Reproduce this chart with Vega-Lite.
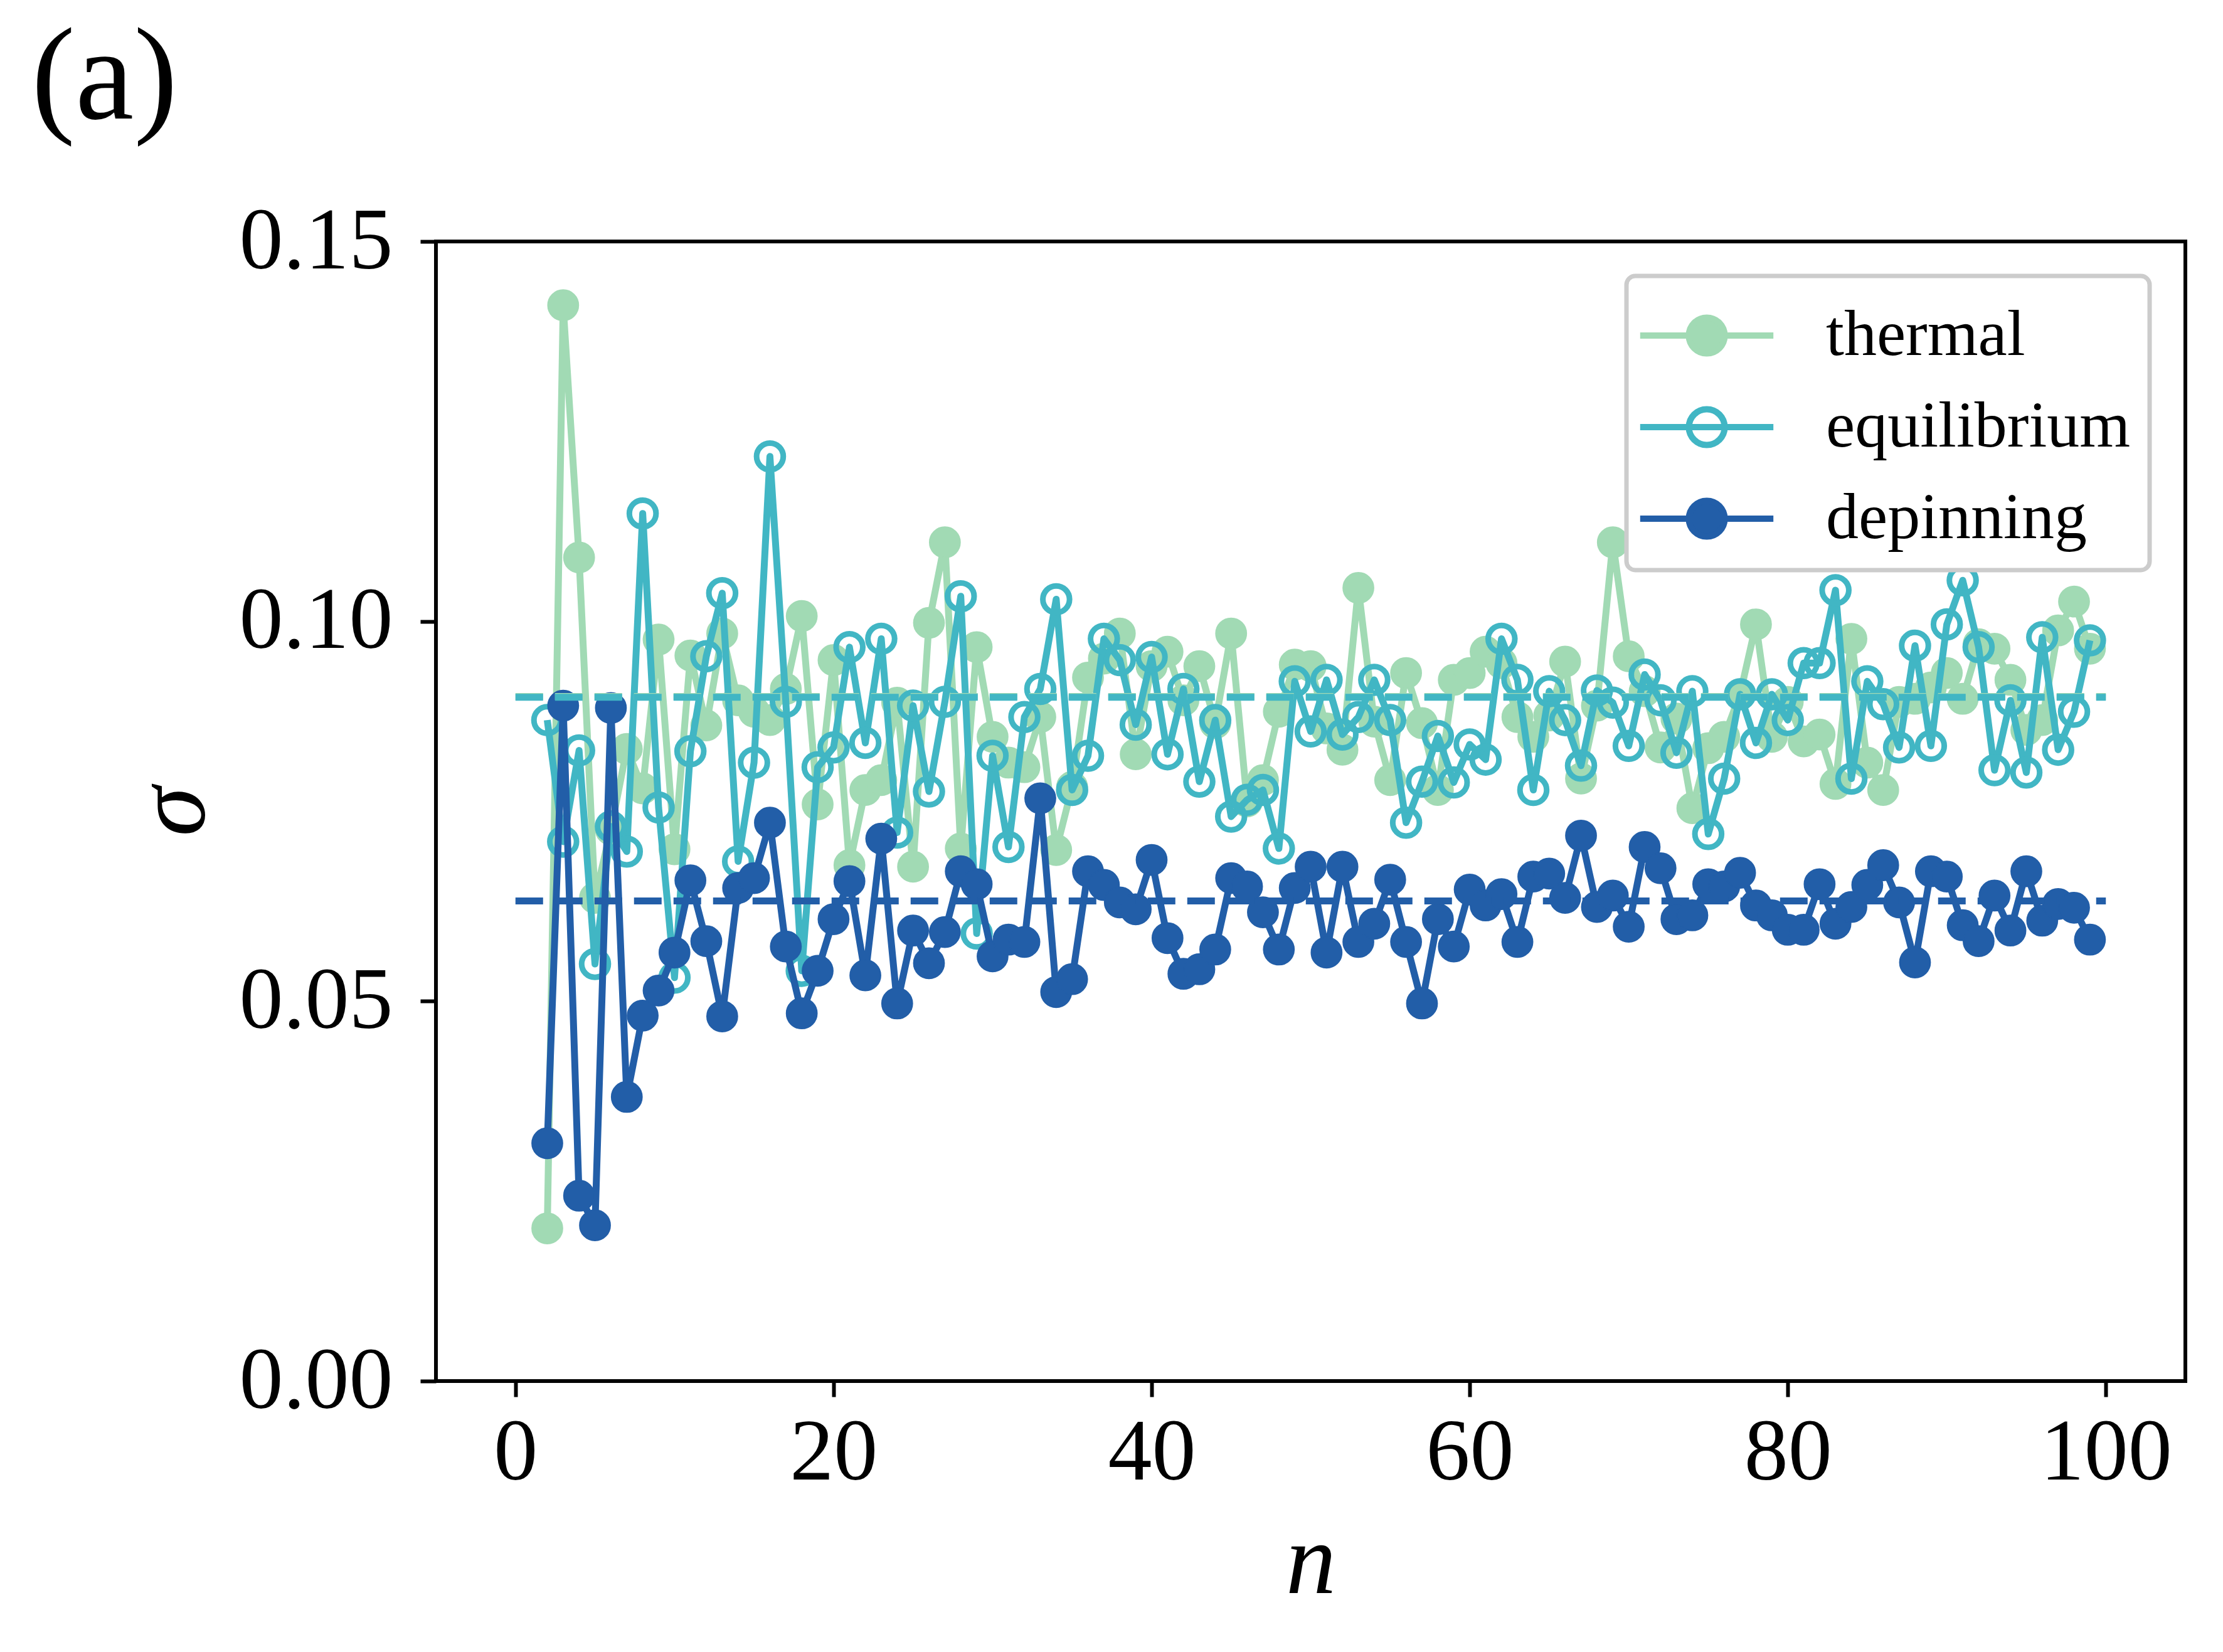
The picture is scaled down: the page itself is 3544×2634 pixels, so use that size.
{
"$schema": "https://vega.github.io/schema/vega-lite/v6.json",
"width": 2789,
"height": 1817,
"autosize": {"type": "none"},
"padding": {"left": 695, "top": 385, "right": 60, "bottom": 432},
"background": "white",
"title": {"text": "(a)", "anchor": "start", "frame": "group", "dx": -645, "offset": -84, "baseline": "alphabetic", "font": "Liberation Serif", "fontSize": 210, "fontWeight": "normal", "color": "black"},
"config": {
  "view": {"stroke": "black", "strokeWidth": 6},
  "axis": {"domain": false, "grid": false, "tickColor": "black", "tickWidth": 6, "tickSize": 25, "labelFont": "Liberation Serif", "labelFontSize": 140, "labelColor": "black", "labelLimit": 0, "labelOverlap": false, "titleFont": "Liberation Serif", "titleFontSize": 160, "titleFontStyle": "italic", "titleFontWeight": "normal", "titleColor": "black"}
},
"datasets": {
"pts": [
{"n":2,"sigma":0.0201,"series":"thermal"},{"n":3,"sigma":0.1416,"series":"thermal"},{"n":4,"sigma":0.1084,"series":"thermal"},{"n":5,"sigma":0.0636,"series":"thermal"},{"n":6,"sigma":0.0726,"series":"thermal"},{"n":7,"sigma":0.0832,"series":"thermal"},{"n":8,"sigma":0.0780,"series":"thermal"},{"n":9,"sigma":0.0976,"series":"thermal"},{"n":10,"sigma":0.0700,"series":"thermal"},{"n":11,"sigma":0.0955,"series":"thermal"},{"n":12,"sigma":0.0863,"series":"thermal"},{"n":13,"sigma":0.0984,"series":"thermal"},{"n":14,"sigma":0.0896,"series":"thermal"},{"n":15,"sigma":0.0881,"series":"thermal"},{"n":16,"sigma":0.0870,"series":"thermal"},{"n":17,"sigma":0.0911,"series":"thermal"},{"n":18,"sigma":0.1007,"series":"thermal"},{"n":19,"sigma":0.0759,"series":"thermal"},{"n":20,"sigma":0.0949,"series":"thermal"},{"n":21,"sigma":0.0679,"series":"thermal"},{"n":22,"sigma":0.0778,"series":"thermal"},{"n":23,"sigma":0.0791,"series":"thermal"},{"n":24,"sigma":0.0893,"series":"thermal"},{"n":25,"sigma":0.0677,"series":"thermal"},{"n":26,"sigma":0.0998,"series":"thermal"},{"n":27,"sigma":0.1104,"series":"thermal"},{"n":28,"sigma":0.0701,"series":"thermal"},{"n":29,"sigma":0.0966,"series":"thermal"},{"n":30,"sigma":0.0848,"series":"thermal"},{"n":31,"sigma":0.0814,"series":"thermal"},{"n":32,"sigma":0.0808,"series":"thermal"},{"n":33,"sigma":0.0874,"series":"thermal"},{"n":34,"sigma":0.0699,"series":"thermal"},{"n":35,"sigma":0.0782,"series":"thermal"},{"n":36,"sigma":0.0926,"series":"thermal"},{"n":37,"sigma":0.0951,"series":"thermal"},{"n":38,"sigma":0.0984,"series":"thermal"},{"n":39,"sigma":0.0825,"series":"thermal"},{"n":40,"sigma":0.0941,"series":"thermal"},{"n":41,"sigma":0.0960,"series":"thermal"},{"n":42,"sigma":0.0896,"series":"thermal"},{"n":43,"sigma":0.0941,"series":"thermal"},{"n":44,"sigma":0.0866,"series":"thermal"},{"n":45,"sigma":0.0984,"series":"thermal"},{"n":46,"sigma":0.0763,"series":"thermal"},{"n":47,"sigma":0.0791,"series":"thermal"},{"n":48,"sigma":0.0881,"series":"thermal"},{"n":49,"sigma":0.0943,"series":"thermal"},{"n":50,"sigma":0.0941,"series":"thermal"},{"n":51,"sigma":0.0859,"series":"thermal"},{"n":52,"sigma":0.0831,"series":"thermal"},{"n":53,"sigma":0.1044,"series":"thermal"},{"n":54,"sigma":0.0868,"series":"thermal"},{"n":55,"sigma":0.0791,"series":"thermal"},{"n":56,"sigma":0.0932,"series":"thermal"},{"n":57,"sigma":0.0866,"series":"thermal"},{"n":58,"sigma":0.0778,"series":"thermal"},{"n":59,"sigma":0.0923,"series":"thermal"},{"n":60,"sigma":0.0932,"series":"thermal"},{"n":61,"sigma":0.0960,"series":"thermal"},{"n":62,"sigma":0.0945,"series":"thermal"},{"n":63,"sigma":0.0874,"series":"thermal"},{"n":64,"sigma":0.0848,"series":"thermal"},{"n":65,"sigma":0.0876,"series":"thermal"},{"n":66,"sigma":0.0947,"series":"thermal"},{"n":67,"sigma":0.0793,"series":"thermal"},{"n":68,"sigma":0.0889,"series":"thermal"},{"n":69,"sigma":0.1104,"series":"thermal"},{"n":70,"sigma":0.0954,"series":"thermal"},{"n":71,"sigma":0.0908,"series":"thermal"},{"n":72,"sigma":0.0834,"series":"thermal"},{"n":73,"sigma":0.0872,"series":"thermal"},{"n":74,"sigma":0.0754,"series":"thermal"},{"n":75,"sigma":0.0833,"series":"thermal"},{"n":76,"sigma":0.0848,"series":"thermal"},{"n":77,"sigma":0.0904,"series":"thermal"},{"n":78,"sigma":0.0996,"series":"thermal"},{"n":79,"sigma":0.0848,"series":"thermal"},{"n":80,"sigma":0.0894,"series":"thermal"},{"n":81,"sigma":0.0842,"series":"thermal"},{"n":82,"sigma":0.0851,"series":"thermal"},{"n":83,"sigma":0.0786,"series":"thermal"},{"n":84,"sigma":0.0977,"series":"thermal"},{"n":85,"sigma":0.0814,"series":"thermal"},{"n":86,"sigma":0.0778,"series":"thermal"},{"n":87,"sigma":0.0894,"series":"thermal"},{"n":88,"sigma":0.0898,"series":"thermal"},{"n":89,"sigma":0.0913,"series":"thermal"},{"n":90,"sigma":0.0932,"series":"thermal"},{"n":91,"sigma":0.0898,"series":"thermal"},{"n":92,"sigma":0.0970,"series":"thermal"},{"n":93,"sigma":0.0964,"series":"thermal"},{"n":94,"sigma":0.0923,"series":"thermal"},{"n":95,"sigma":0.0857,"series":"thermal"},{"n":96,"sigma":0.0870,"series":"thermal"},{"n":97,"sigma":0.0988,"series":"thermal"},{"n":98,"sigma":0.1026,"series":"thermal"},{"n":99,"sigma":0.0964,"series":"thermal"},
{"n":2,"sigma":0.0870,"series":"equilibrium"},{"n":3,"sigma":0.0710,"series":"equilibrium"},{"n":4,"sigma":0.0830,"series":"equilibrium"},{"n":5,"sigma":0.0549,"series":"equilibrium"},{"n":6,"sigma":0.0730,"series":"equilibrium"},{"n":7,"sigma":0.0697,"series":"equilibrium"},{"n":8,"sigma":0.1142,"series":"equilibrium"},{"n":9,"sigma":0.0755,"series":"equilibrium"},{"n":10,"sigma":0.0531,"series":"equilibrium"},{"n":11,"sigma":0.0829,"series":"equilibrium"},{"n":12,"sigma":0.0954,"series":"equilibrium"},{"n":13,"sigma":0.1037,"series":"equilibrium"},{"n":14,"sigma":0.0684,"series":"equilibrium"},{"n":15,"sigma":0.0814,"series":"equilibrium"},{"n":16,"sigma":0.1217,"series":"equilibrium"},{"n":17,"sigma":0.0894,"series":"equilibrium"},{"n":18,"sigma":0.0540,"series":"equilibrium"},{"n":19,"sigma":0.0808,"series":"equilibrium"},{"n":20,"sigma":0.0834,"series":"equilibrium"},{"n":21,"sigma":0.0966,"series":"equilibrium"},{"n":22,"sigma":0.0840,"series":"equilibrium"},{"n":23,"sigma":0.0977,"series":"equilibrium"},{"n":24,"sigma":0.0722,"series":"equilibrium"},{"n":25,"sigma":0.0889,"series":"equilibrium"},{"n":26,"sigma":0.0776,"series":"equilibrium"},{"n":27,"sigma":0.0894,"series":"equilibrium"},{"n":28,"sigma":0.1033,"series":"equilibrium"},{"n":29,"sigma":0.0589,"series":"equilibrium"},{"n":30,"sigma":0.0823,"series":"equilibrium"},{"n":31,"sigma":0.0703,"series":"equilibrium"},{"n":32,"sigma":0.0874,"series":"equilibrium"},{"n":33,"sigma":0.0911,"series":"equilibrium"},{"n":34,"sigma":0.1029,"series":"equilibrium"},{"n":35,"sigma":0.0778,"series":"equilibrium"},{"n":36,"sigma":0.0823,"series":"equilibrium"},{"n":37,"sigma":0.0977,"series":"equilibrium"},{"n":38,"sigma":0.0949,"series":"equilibrium"},{"n":39,"sigma":0.0864,"series":"equilibrium"},{"n":40,"sigma":0.0953,"series":"equilibrium"},{"n":41,"sigma":0.0825,"series":"equilibrium"},{"n":42,"sigma":0.0911,"series":"equilibrium"},{"n":43,"sigma":0.0789,"series":"equilibrium"},{"n":44,"sigma":0.0870,"series":"equilibrium"},{"n":45,"sigma":0.0743,"series":"equilibrium"},{"n":46,"sigma":0.0765,"series":"equilibrium"},{"n":47,"sigma":0.0778,"series":"equilibrium"},{"n":48,"sigma":0.0701,"series":"equilibrium"},{"n":49,"sigma":0.0921,"series":"equilibrium"},{"n":50,"sigma":0.0855,"series":"equilibrium"},{"n":51,"sigma":0.0923,"series":"equilibrium"},{"n":52,"sigma":0.0851,"series":"equilibrium"},{"n":53,"sigma":0.0874,"series":"equilibrium"},{"n":54,"sigma":0.0923,"series":"equilibrium"},{"n":55,"sigma":0.0870,"series":"equilibrium"},{"n":56,"sigma":0.0735,"series":"equilibrium"},{"n":57,"sigma":0.0789,"series":"equilibrium"},{"n":58,"sigma":0.0849,"series":"equilibrium"},{"n":59,"sigma":0.0788,"series":"equilibrium"},{"n":60,"sigma":0.0838,"series":"equilibrium"},{"n":61,"sigma":0.0818,"series":"equilibrium"},{"n":62,"sigma":0.0977,"series":"equilibrium"},{"n":63,"sigma":0.0923,"series":"equilibrium"},{"n":64,"sigma":0.0778,"series":"equilibrium"},{"n":65,"sigma":0.0908,"series":"equilibrium"},{"n":66,"sigma":0.0870,"series":"equilibrium"},{"n":67,"sigma":0.0810,"series":"equilibrium"},{"n":68,"sigma":0.0909,"series":"equilibrium"},{"n":69,"sigma":0.0893,"series":"equilibrium"},{"n":70,"sigma":0.0836,"series":"equilibrium"},{"n":71,"sigma":0.0930,"series":"equilibrium"},{"n":72,"sigma":0.0896,"series":"equilibrium"},{"n":73,"sigma":0.0827,"series":"equilibrium"},{"n":74,"sigma":0.0908,"series":"equilibrium"},{"n":75,"sigma":0.0720,"series":"equilibrium"},{"n":76,"sigma":0.0793,"series":"equilibrium"},{"n":77,"sigma":0.0904,"series":"equilibrium"},{"n":78,"sigma":0.0840,"series":"equilibrium"},{"n":79,"sigma":0.0904,"series":"equilibrium"},{"n":80,"sigma":0.0870,"series":"equilibrium"},{"n":81,"sigma":0.0945,"series":"equilibrium"},{"n":82,"sigma":0.0945,"series":"equilibrium"},{"n":83,"sigma":0.1041,"series":"equilibrium"},{"n":84,"sigma":0.0793,"series":"equilibrium"},{"n":85,"sigma":0.0921,"series":"equilibrium"},{"n":86,"sigma":0.0891,"series":"equilibrium"},{"n":87,"sigma":0.0834,"series":"equilibrium"},{"n":88,"sigma":0.0968,"series":"equilibrium"},{"n":89,"sigma":0.0836,"series":"equilibrium"},{"n":90,"sigma":0.0996,"series":"equilibrium"},{"n":91,"sigma":0.1054,"series":"equilibrium"},{"n":92,"sigma":0.0966,"series":"equilibrium"},{"n":93,"sigma":0.0804,"series":"equilibrium"},{"n":94,"sigma":0.0896,"series":"equilibrium"},{"n":95,"sigma":0.0801,"series":"equilibrium"},{"n":96,"sigma":0.0979,"series":"equilibrium"},{"n":97,"sigma":0.0831,"series":"equilibrium"},{"n":98,"sigma":0.0881,"series":"equilibrium"},{"n":99,"sigma":0.0975,"series":"equilibrium"},
{"n":2,"sigma":0.0313,"series":"depinning"},{"n":3,"sigma":0.0889,"series":"depinning"},{"n":4,"sigma":0.0244,"series":"depinning"},{"n":5,"sigma":0.0205,"series":"depinning"},{"n":6,"sigma":0.0886,"series":"depinning"},{"n":7,"sigma":0.0374,"series":"depinning"},{"n":8,"sigma":0.0481,"series":"depinning"},{"n":9,"sigma":0.0514,"series":"depinning"},{"n":10,"sigma":0.0564,"series":"depinning"},{"n":11,"sigma":0.0659,"series":"depinning"},{"n":12,"sigma":0.0579,"series":"depinning"},{"n":13,"sigma":0.0480,"series":"depinning"},{"n":14,"sigma":0.0649,"series":"depinning"},{"n":15,"sigma":0.0662,"series":"depinning"},{"n":16,"sigma":0.0735,"series":"depinning"},{"n":17,"sigma":0.0572,"series":"depinning"},{"n":18,"sigma":0.0484,"series":"depinning"},{"n":19,"sigma":0.0540,"series":"depinning"},{"n":20,"sigma":0.0608,"series":"depinning"},{"n":21,"sigma":0.0658,"series":"depinning"},{"n":22,"sigma":0.0534,"series":"depinning"},{"n":23,"sigma":0.0714,"series":"depinning"},{"n":24,"sigma":0.0497,"series":"depinning"},{"n":25,"sigma":0.0593,"series":"depinning"},{"n":26,"sigma":0.0550,"series":"depinning"},{"n":27,"sigma":0.0591,"series":"depinning"},{"n":28,"sigma":0.0671,"series":"depinning"},{"n":29,"sigma":0.0654,"series":"depinning"},{"n":30,"sigma":0.0559,"series":"depinning"},{"n":31,"sigma":0.0581,"series":"depinning"},{"n":32,"sigma":0.0578,"series":"depinning"},{"n":33,"sigma":0.0767,"series":"depinning"},{"n":34,"sigma":0.0512,"series":"depinning"},{"n":35,"sigma":0.0529,"series":"depinning"},{"n":36,"sigma":0.0671,"series":"depinning"},{"n":37,"sigma":0.0653,"series":"depinning"},{"n":38,"sigma":0.0630,"series":"depinning"},{"n":39,"sigma":0.0621,"series":"depinning"},{"n":40,"sigma":0.0686,"series":"depinning"},{"n":41,"sigma":0.0583,"series":"depinning"},{"n":42,"sigma":0.0536,"series":"depinning"},{"n":43,"sigma":0.0542,"series":"depinning"},{"n":44,"sigma":0.0568,"series":"depinning"},{"n":45,"sigma":0.0662,"series":"depinning"},{"n":46,"sigma":0.0651,"series":"depinning"},{"n":47,"sigma":0.0617,"series":"depinning"},{"n":48,"sigma":0.0568,"series":"depinning"},{"n":49,"sigma":0.0649,"series":"depinning"},{"n":50,"sigma":0.0677,"series":"depinning"},{"n":51,"sigma":0.0564,"series":"depinning"},{"n":52,"sigma":0.0677,"series":"depinning"},{"n":53,"sigma":0.0578,"series":"depinning"},{"n":54,"sigma":0.0602,"series":"depinning"},{"n":55,"sigma":0.0660,"series":"depinning"},{"n":56,"sigma":0.0578,"series":"depinning"},{"n":57,"sigma":0.0497,"series":"depinning"},{"n":58,"sigma":0.0608,"series":"depinning"},{"n":59,"sigma":0.0572,"series":"depinning"},{"n":60,"sigma":0.0647,"series":"depinning"},{"n":61,"sigma":0.0626,"series":"depinning"},{"n":62,"sigma":0.0641,"series":"depinning"},{"n":63,"sigma":0.0578,"series":"depinning"},{"n":64,"sigma":0.0664,"series":"depinning"},{"n":65,"sigma":0.0668,"series":"depinning"},{"n":66,"sigma":0.0636,"series":"depinning"},{"n":67,"sigma":0.0718,"series":"depinning"},{"n":68,"sigma":0.0624,"series":"depinning"},{"n":69,"sigma":0.0639,"series":"depinning"},{"n":70,"sigma":0.0598,"series":"depinning"},{"n":71,"sigma":0.0703,"series":"depinning"},{"n":72,"sigma":0.0675,"series":"depinning"},{"n":73,"sigma":0.0608,"series":"depinning"},{"n":74,"sigma":0.0613,"series":"depinning"},{"n":75,"sigma":0.0654,"series":"depinning"},{"n":76,"sigma":0.0651,"series":"depinning"},{"n":77,"sigma":0.0669,"series":"depinning"},{"n":78,"sigma":0.0626,"series":"depinning"},{"n":79,"sigma":0.0613,"series":"depinning"},{"n":80,"sigma":0.0594,"series":"depinning"},{"n":81,"sigma":0.0594,"series":"depinning"},{"n":82,"sigma":0.0654,"series":"depinning"},{"n":83,"sigma":0.0602,"series":"depinning"},{"n":84,"sigma":0.0624,"series":"depinning"},{"n":85,"sigma":0.0653,"series":"depinning"},{"n":86,"sigma":0.0679,"series":"depinning"},{"n":87,"sigma":0.0630,"series":"depinning"},{"n":88,"sigma":0.0551,"series":"depinning"},{"n":89,"sigma":0.0671,"series":"depinning"},{"n":90,"sigma":0.0664,"series":"depinning"},{"n":91,"sigma":0.0600,"series":"depinning"},{"n":92,"sigma":0.0579,"series":"depinning"},{"n":93,"sigma":0.0639,"series":"depinning"},{"n":94,"sigma":0.0593,"series":"depinning"},{"n":95,"sigma":0.0671,"series":"depinning"},{"n":96,"sigma":0.0606,"series":"depinning"},{"n":97,"sigma":0.0628,"series":"depinning"},{"n":98,"sigma":0.0623,"series":"depinning"},{"n":99,"sigma":0.0581,"series":"depinning"}
],
"means": [
{"n":0,"n2":100,"sigma":0.0901,"series":"thermal"},
{"n":0,"n2":100,"sigma":0.0900,"series":"equilibrium"},
{"n":0,"n2":100,"sigma":0.0632,"series":"depinning"}
]
},
"data": {"name": "pts"},
"encoding": {
  "x": {"field": "n", "type": "quantitative", "scale": {"domain": [-5, 105], "nice": false, "zero": false}, "axis": {"values": [0, 20, 40, 60, 80, 100], "title": "n", "labelPadding": 20, "titlePadding": 27}},
  "y": {"field": "sigma", "type": "quantitative", "scale": {"domain": [0, 0.15], "nice": false}, "axis": {"values": [0, 0.05, 0.1, 0.15], "format": ".2f", "title": "σ", "labelPadding": 44, "titlePadding": 137}},
  "color": {"field": "series", "type": "nominal", "scale": {"domain": ["thermal", "equilibrium", "depinning"], "range": ["#a1dab4", "#41b6c4", "#225ea8"]},
    "legend": {"title": null, "orient": "none", "legendX": 1898, "legendY": 55, "padding": 30, "fillColor": "white", "strokeColor": "#cccccc", "cornerRadius": 14,
      "labelFont": "Liberation Serif", "labelFontSize": 104, "labelColor": "black", "labelOffset": 158, "labelLimit": 0, "rowPadding": 29,
      "symbolSize": 14400, "symbolType": "M -1.22 0 L 2.32 0 M 1.025 0 A 0.475 0.475 0 1 1 0.075 0 A 0.475 0.475 0 1 1 1.025 0 Z", "symbolStrokeWidth": 10, "symbolOpacity": 1,
      "encode": {"legend": {"update": {"strokeWidth": {"value": 7}}}}}}
},
"layer": [
  {"transform": [{"filter": "datum.series === 'thermal'"}], "mark": {"type": "line", "strokeWidth": 11, "strokeJoin": "round"}},
  {"transform": [{"filter": "datum.series === 'thermal'"}], "mark": {"type": "point", "shape": "circle", "filled": false, "size": 2376, "strokeWidth": 2, "opacity": 1},
   "encoding": {"fill": {"field": "series", "type": "nominal", "scale": {"domain": ["thermal", "equilibrium", "depinning"], "range": ["#a1dab4", "transparent", "#225ea8"]},
    "legend": {"title": null, "orient": "none", "legendX": 1898, "legendY": 55, "padding": 30, "fillColor": "white", "strokeColor": "#cccccc", "cornerRadius": 14,
      "labelFont": "Liberation Serif", "labelFontSize": 104, "labelColor": "black", "labelOffset": 158, "labelLimit": 0, "rowPadding": 29,
      "symbolSize": 14400, "symbolType": "M -1.22 0 L 2.32 0 M 1.025 0 A 0.475 0.475 0 1 1 0.075 0 A 0.475 0.475 0 1 1 1.025 0 Z", "symbolStrokeWidth": 10, "symbolOpacity": 1,
      "encode": {"legend": {"update": {"strokeWidth": {"value": 7}}}}}}}},
  {"transform": [{"filter": "datum.series === 'equilibrium'"}], "mark": {"type": "line", "strokeWidth": 11, "strokeJoin": "round"}},
  {"transform": [{"filter": "datum.series === 'equilibrium'"}], "mark": {"type": "point", "shape": "circle", "filled": false, "size": 1810, "strokeWidth": 9, "opacity": 1},
   "encoding": {"fill": {"field": "series", "type": "nominal"}}},
  {"transform": [{"filter": "datum.series === 'depinning'"}], "mark": {"type": "line", "strokeWidth": 11, "strokeJoin": "round"}},
  {"transform": [{"filter": "datum.series === 'depinning'"}], "mark": {"type": "point", "shape": "circle", "filled": false, "size": 2376, "strokeWidth": 2, "opacity": 1},
   "encoding": {"fill": {"field": "series", "type": "nominal"}}},
  {"data": {"name": "means"}, "mark": {"type": "rule", "strokeWidth": 11, "strokeDash": [44, 19]}, "encoding": {"x2": {"field": "n2"}}}
]
}
